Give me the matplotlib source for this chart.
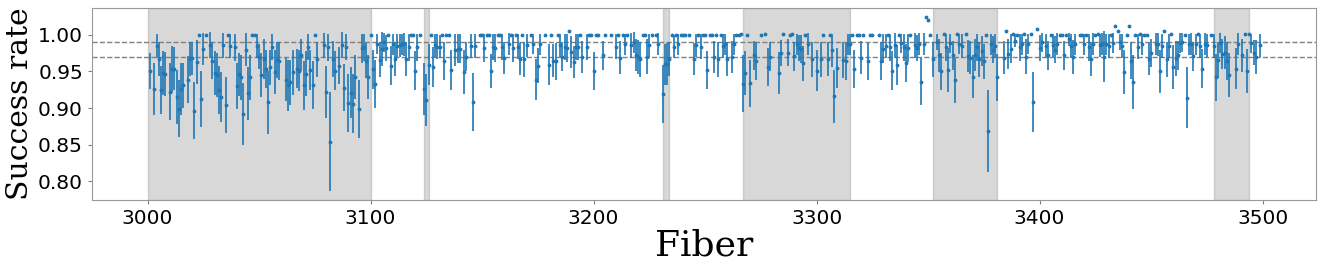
import matplotlib
matplotlib.use("Agg")
import matplotlib.pyplot as plt
import numpy as np

# ---------------- data ----------------
fibers = [
    3001, 3003, 3004, 3005, 3006, 3007, 3008, 3010, 3011, 3012, 3013, 3014, 3015, 3016, 3018, 3019, 3020, 3021, 3022, 3023,
    3024, 3025, 3026, 3028, 3029, 3030, 3031, 3032, 3033, 3034, 3035, 3036, 3037, 3039, 3040, 3041, 3042, 3043, 3044, 3045,
    3046, 3047, 3048, 3049,
    3050, 3051, 3052, 3053, 3054, 3055, 3056, 3057, 3058, 3059, 3062, 3063, 3064, 3065, 3067, 3068, 3069, 3070, 3071, 3072,
    3073, 3074, 3075, 3076, 3079, 3080, 3081, 3082, 3083, 3084, 3086, 3087, 3088, 3089, 3090, 3091, 3092, 3093, 3095, 3096,
    3097, 3098, 3099, 3100, 3101,
    3102, 3103, 3104, 3105, 3106, 3107, 3108, 3109, 3110, 3111, 3112, 3113, 3114, 3115, 3116, 3117, 3118, 3119, 3120, 3121,
    3122, 3124, 3125, 3126, 3127, 3128, 3129, 3130, 3131, 3132, 3133, 3134, 3135, 3136, 3138, 3139, 3140, 3142, 3143, 3145,
    3146, 3147, 3149, 3150, 3151, 3152,
    3153, 3154, 3155, 3156, 3157, 3158, 3159, 3160, 3162, 3163, 3164, 3165, 3166, 3167, 3168, 3169, 3170, 3172, 3173, 3174,
    3175, 3176, 3178, 3180, 3181, 3182, 3183, 3184, 3185, 3186, 3187, 3188, 3189, 3190, 3191, 3192, 3193, 3194, 3195, 3197,
    3198, 3199, 3200, 3201, 3202,
    3204, 3205, 3208, 3210, 3211, 3212, 3213, 3214, 3215, 3217, 3218, 3219, 3220, 3221, 3222, 3223, 3224, 3225, 3226, 3228,
    3229, 3231, 3232, 3233, 3234, 3235, 3236, 3237, 3238, 3239, 3240, 3241, 3243, 3245, 3246, 3247, 3248, 3249, 3250, 3251,
    3252, 3253, 3254,
    3255, 3256, 3257, 3258, 3259, 3260, 3262, 3263, 3264, 3265, 3266, 3267, 3268, 3269, 3270, 3272, 3273, 3275, 3277, 3278,
    3279, 3283, 3284, 3285, 3287, 3288, 3289, 3290, 3291, 3292, 3293, 3294, 3295, 3296, 3298, 3300, 3302, 3303, 3305, 3306,
    3307, 3308, 3309, 3312, 3313, 3314, 3315, 3316, 3317, 3318, 3319, 3320, 3321, 3323, 3324, 3325, 3328, 3329, 3330, 3331,
    3332, 3333, 3334, 3335, 3336, 3337, 3338, 3339, 3340, 3341, 3342, 3344, 3345, 3346, 3347, 3348, 3349, 3350, 3351, 3352,
    3354, 3355, 3356, 3357,
    3358, 3359, 3360, 3361, 3362, 3363, 3364, 3365, 3367, 3368, 3369, 3370, 3371, 3372, 3373, 3374, 3375, 3376, 3377, 3378,
    3379, 3380, 3381, 3384, 3385, 3386, 3387, 3388, 3389, 3390, 3391, 3392, 3393, 3394, 3395, 3396, 3397, 3399, 3400, 3401,
    3403, 3404, 3405, 3406, 3407, 3408,
    3409, 3410, 3411, 3412, 3413, 3414, 3415, 3416, 3418, 3419, 3420, 3421, 3422, 3423, 3424, 3425, 3426, 3427, 3428, 3429,
    3430, 3431, 3432, 3433, 3434, 3435, 3436, 3437, 3438, 3439, 3440, 3441, 3442, 3443, 3444, 3445, 3446, 3447, 3448, 3449,
    3450, 3452, 3453, 3454, 3455, 3456, 3457, 3458, 3459, 3460,
    3461, 3462, 3463, 3464, 3465, 3466, 3467, 3468, 3469, 3470, 3471, 3472, 3473, 3474, 3475, 3477, 3478, 3479, 3480, 3481,
    3482, 3483, 3484, 3485, 3488, 3489, 3491, 3492, 3493, 3494, 3495, 3496, 3497, 3499,
]

success_rate = [
    0.951, 0.926, 0.985, 0.967, 0.925, 0.948, 0.947, 0.922, 0.953, 0.954, 0.915, 0.899, 0.926, 0.931, 0.939, 0.967, 0.968, 0.896, 0.963, 1.000,
    0.912, 0.981, 1.000, 0.986, 0.965, 0.948, 0.945, 0.925, 0.915, 0.986, 0.904, 1.000, 0.985, 0.983, 0.930, 0.946, 0.942, 0.892, 0.980, 0.920,
    0.942, 1.000, 1.000, 0.985,
    0.970, 0.945, 0.967, 0.954, 0.908, 0.956, 0.984, 0.949, 0.966, 0.965, 0.939, 0.931, 0.935, 0.949, 0.954, 0.951, 0.973, 0.931, 0.947, 0.984,
    0.952, 0.931, 1.000, 0.967, 0.986, 0.922, 0.983, 0.854, 0.967, 0.951, 0.958, 0.986, 0.928, 0.984, 0.907, 0.921, 0.906, 0.942, 0.899, 0.982,
    0.983, 0.965, 0.943, 1.000, 0.953,
    0.933, 0.988, 0.966, 0.981, 0.990, 0.982, 1.000, 0.958, 0.987, 0.967, 0.985, 0.986, 0.987, 0.987, 0.967, 0.983, 1.000, 1.000, 0.951, 0.983,
    1.000, 0.926, 0.911, 0.959, 1.000, 0.956, 0.986, 0.984, 0.984, 1.000, 0.964, 1.000, 1.000, 0.952, 0.980, 0.981, 0.981, 0.949, 0.970, 0.985,
    0.908, 0.985, 1.000, 1.000, 0.982, 1.000,
    1.000, 0.951, 0.984, 0.982, 1.000, 1.000, 0.984, 0.968, 0.988, 1.000, 0.982, 1.000, 0.984, 0.967, 1.000, 0.967, 0.986, 1.000, 0.988, 0.939,
    0.958, 0.987, 1.000, 0.959, 1.000, 0.965, 0.964, 1.000, 0.986, 0.970, 0.984, 0.982, 1.006, 0.977, 0.963, 0.984, 0.984, 1.000, 0.970, 0.984,
    1.000, 1.000, 0.951, 1.000, 1.000,
    0.972, 1.000, 1.000, 0.984, 1.000, 0.969, 1.000, 0.987, 1.000, 0.986, 0.990, 0.972, 0.970, 0.967, 1.000, 1.000, 0.970, 0.986, 1.000, 1.000,
    0.988, 0.919, 0.960, 0.960, 0.967, 1.000, 0.984, 1.000, 0.987, 1.000, 1.000, 1.000, 1.000, 0.967, 0.986, 1.000, 0.984, 1.000, 1.000, 0.952,
    1.000, 1.000, 0.970,
    1.000, 0.967, 1.000, 0.985, 0.987, 0.967, 0.970, 0.987, 1.000, 1.000, 1.002, 0.933, 0.948, 1.000, 0.934, 0.972, 0.965, 1.000, 1.002, 0.956,
    0.970, 0.948, 0.975, 1.002, 0.976, 1.000, 1.001, 0.971, 0.987, 0.982, 0.981, 0.961, 1.000, 0.988, 0.967, 0.951, 0.967, 1.000, 0.967, 1.000,
    0.979, 0.916, 0.955, 0.966, 0.964, 0.987, 0.987, 1.000, 0.954, 1.000, 1.000, 0.969, 1.000, 0.964, 1.000, 1.000, 1.000, 0.965, 0.981, 0.985,
    1.000, 0.983, 0.951, 0.986, 0.959, 1.000, 0.989, 0.983, 0.962, 0.982, 1.000, 0.986, 0.982, 0.988, 0.936, 0.988, 1.025, 1.021, 1.000, 0.967,
    0.990, 0.972, 0.950, 1.002,
    0.983, 0.952, 0.989, 0.972, 0.938, 1.002, 0.988, 0.985, 1.002, 0.971, 0.969, 0.943, 0.973, 0.983, 0.967, 0.978, 0.964, 1.000, 0.869, 0.987,
    0.980, 0.985, 0.942, 0.969, 1.006, 0.974, 0.981, 1.002, 0.992, 1.000, 0.983, 0.987, 1.002, 0.970, 0.988, 1.002, 0.908, 1.008, 0.982, 0.990,
    0.985, 0.972, 1.000, 0.986, 0.980, 0.988,
    1.000, 1.000, 0.972, 1.000, 0.994, 0.985, 0.970, 0.987, 1.000, 1.000, 0.987, 1.000, 0.983, 0.967, 0.988, 1.000, 1.002, 0.986, 0.988, 0.970,
    0.987, 0.985, 1.000, 0.989, 1.012, 1.006, 0.990, 0.985, 0.949, 1.000, 1.012, 0.965, 0.936, 1.000, 0.984, 1.002, 0.987, 1.000, 1.000, 0.967,
    0.975, 0.988, 0.987, 0.950, 0.985, 1.006, 0.967, 0.985, 1.002, 0.956,
    0.968, 0.972, 0.989, 0.990, 1.000, 0.914, 0.987, 0.988, 0.971, 0.987, 1.002, 0.985, 0.954, 0.988, 0.986, 1.000, 0.985, 0.942, 0.966, 0.989,
    0.974, 0.976, 0.964, 0.945, 0.954, 0.988, 0.972, 1.002, 0.951, 1.002, 0.989, 0.976, 0.970, 0.986,
]

rate_error = [
    0.025, 0.036, 0.017, 0.023, 0.033, 0.030, 0.030, 0.039, 0.032, 0.030, 0.037, 0.039, 0.035, 0.031, 0.032, 0.023, 0.023, 0.039, 0.030, 0.0,
    0.038, 0.022, 0.0, 0.018, 0.025, 0.030, 0.030, 0.033, 0.034, 0.017, 0.038, 0.0, 0.017, 0.018, 0.031, 0.030, 0.031, 0.042, 0.023, 0.036,
    0.031, 0.0, 0.0, 0.017,
    0.017, 0.030, 0.027, 0.026, 0.043, 0.024, 0.018, 0.030, 0.025, 0.026, 0.030, 0.035, 0.031, 0.031, 0.027, 0.028, 0.022, 0.034, 0.031, 0.018,
    0.027, 0.033, 0.0, 0.024, 0.017, 0.036, 0.019, 0.068, 0.025, 0.027, 0.025, 0.018, 0.032, 0.018, 0.040, 0.035, 0.040, 0.030, 0.040, 0.020,
    0.019, 0.024, 0.030, 0.0, 0.027,
    0.033, 0.014, 0.024, 0.023, 0.013, 0.018, 0.0, 0.027, 0.015, 0.023, 0.017, 0.016, 0.015, 0.016, 0.023, 0.018, 0.0, 0.0, 0.027, 0.018,
    0.0, 0.035, 0.036, 0.028, 0.0, 0.027, 0.016, 0.017, 0.016, 0.0, 0.026, 0.0, 0.0, 0.027, 0.022, 0.020, 0.020, 0.030, 0.020, 0.017,
    0.040, 0.017, 0.0, 0.0, 0.019, 0.0,
    0.0, 0.023, 0.018, 0.019, 0.0, 0.0, 0.018, 0.022, 0.015, 0.0, 0.019, 0.0, 0.017, 0.022, 0.0, 0.024, 0.016, 0.0, 0.014, 0.028,
    0.024, 0.015, 0.0, 0.028, 0.0, 0.023, 0.025, 0.0, 0.016, 0.020, 0.018, 0.019, 0.0, 0.022, 0.022, 0.018, 0.018, 0.0, 0.022, 0.018,
    0.0, 0.0, 0.026, 0.0, 0.0,
    0.020, 0.0, 0.0, 0.017, 0.0, 0.023, 0.0, 0.015, 0.0, 0.017, 0.014, 0.022, 0.023, 0.024, 0.0, 0.0, 0.024, 0.016, 0.0, 0.0,
    0.015, 0.040, 0.028, 0.029, 0.023, 0.0, 0.016, 0.0, 0.015, 0.0, 0.0, 0.0, 0.0, 0.022, 0.016, 0.0, 0.017, 0.0, 0.0, 0.026,
    0.0, 0.0, 0.022,
    0.0, 0.024, 0.0, 0.017, 0.015, 0.023, 0.022, 0.015, 0.0, 0.0, 0.0, 0.039, 0.030, 0.0, 0.032, 0.020, 0.026, 0.0, 0.0, 0.026,
    0.020, 0.029, 0.018, 0.0, 0.019, 0.0, 0.0, 0.020, 0.015, 0.018, 0.019, 0.024, 0.0, 0.015, 0.024, 0.028, 0.024, 0.0, 0.023, 0.0,
    0.023, 0.036, 0.027, 0.025, 0.025, 0.015, 0.014, 0.0, 0.026, 0.0, 0.0, 0.023, 0.0, 0.025, 0.0, 0.0, 0.0, 0.026, 0.020, 0.017,
    0.0, 0.018, 0.027, 0.017, 0.027, 0.0, 0.013, 0.019, 0.026, 0.019, 0.0, 0.017, 0.018, 0.015, 0.032, 0.015, 0.0, 0.0, 0.0, 0.024,
    0.011, 0.023, 0.025, 0.0,
    0.018, 0.030, 0.013, 0.020, 0.031, 0.0, 0.014, 0.016, 0.0, 0.022, 0.023, 0.029, 0.022, 0.018, 0.024, 0.020, 0.024, 0.0, 0.056, 0.015,
    0.019, 0.016, 0.032, 0.023, 0.0, 0.020, 0.020, 0.0, 0.009, 0.0, 0.018, 0.015, 0.0, 0.024, 0.014, 0.0, 0.041, 0.0, 0.018, 0.013,
    0.017, 0.020, 0.0, 0.016, 0.019, 0.015,
    0.0, 0.0, 0.020, 0.0, 0.009, 0.017, 0.023, 0.015, 0.0, 0.0, 0.015, 0.0, 0.018, 0.023, 0.015, 0.0, 0.0, 0.016, 0.015, 0.035,
    0.015, 0.017, 0.0, 0.014, 0.0, 0.0, 0.011, 0.017, 0.030, 0.0, 0.0, 0.025, 0.037, 0.0, 0.017, 0.0, 0.015, 0.0, 0.0, 0.022,
    0.019, 0.015, 0.016, 0.030, 0.017, 0.0, 0.024, 0.017, 0.0, 0.030,
    0.024, 0.020, 0.014, 0.013, 0.0, 0.042, 0.015, 0.015, 0.020, 0.015, 0.0, 0.017, 0.027, 0.015, 0.016, 0.0, 0.016, 0.032, 0.025, 0.014,
    0.021, 0.022, 0.026, 0.030, 0.028, 0.015, 0.023, 0.0, 0.030, 0.0, 0.013, 0.017, 0.023, 0.016,
]

# fibre ranges highlighted in grey
shaded_starts = [3000, 3124, 3231, 3267, 3352, 3478]
shaded_ends = [3100, 3126, 3234, 3315, 3381, 3494]

reference_levels = [0.99, 0.97]

x_ticks = [3000, 3100, 3200, 3300, 3400, 3500]
y_ticks = [0.80, 0.85, 0.90, 0.95, 1.00]

# ---------------- plot ----------------
fig = plt.figure(figsize=(13.29, 2.66), dpi=100)
ax = fig.add_axes([0.0692, 0.248, 0.9210, 0.722])

for s, e in zip(shaded_starts, shaded_ends):
    ax.axvspan(s, e, color="gray", alpha=0.3, zorder=0)

for lvl in reference_levels:
    ax.axhline(lvl, color="gray", linestyle="--", linewidth=1.0, zorder=1)

ax.errorbar(fibers, success_rate, yerr=rate_error, fmt=".", color="#1f77b4",
            markersize=3.5, elinewidth=1.2, capsize=0, zorder=2)

ax.set_xticks(x_ticks)
ax.set_yticks(y_ticks)
ax.set_yticklabels([f"{v:.2f}" for v in y_ticks])
ax.tick_params(axis="both", labelsize=14.5, color="gray", length=3)
for sp in ax.spines.values():
    sp.set_color("#999999")

ax.set_xlabel("Fiber", fontsize=26, family="DejaVu Serif", labelpad=0)
ax.set_ylabel("Success rate", fontsize=21.5, family="DejaVu Serif", labelpad=3)

fig.savefig("out.png", dpi=100)
